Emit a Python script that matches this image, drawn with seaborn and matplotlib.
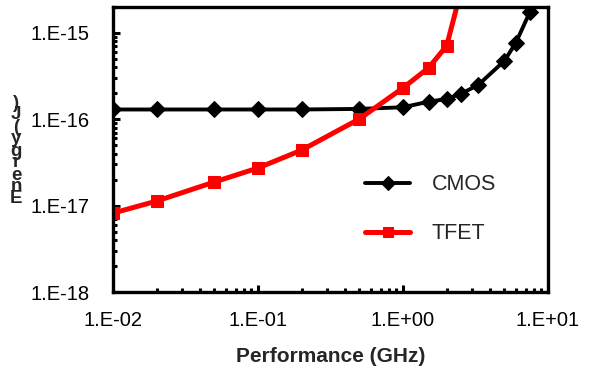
import numpy as np
import pandas as pd
import matplotlib
matplotlib.use("Agg")
import matplotlib.pyplot as plt
from matplotlib.ticker import FuncFormatter, LogLocator, NullFormatter
import seaborn as sns

# data
cmos_freq = [0.01, 0.02, 0.05, 0.1, 0.2, 0.5, 1.0, 1.5, 2.0, 2.5, 3.3, 5.0, 6.0, 7.5]
cmos_energy = [1.3e-16, 1.3e-16, 1.3e-16, 1.3e-16, 1.3e-16, 1.32e-16, 1.38e-16,
               1.6e-16, 1.72e-16, 1.97e-16, 2.5e-16, 4.75e-16, 7.7e-16, 1.75e-15]
tfet_freq = [0.01, 0.02, 0.05, 0.1, 0.2, 0.5, 1.0, 1.5, 2.0, 2.5]
tfet_energy = [8.2e-18, 1.13e-17, 1.88e-17, 2.73e-17, 4.4e-17, 1.01e-16,
               2.31e-16, 3.94e-16, 7.1e-16, 3.0e-15]

x_ticks = [0.01, 0.1, 1, 10]
y_ticks = [1e-18, 1e-17, 1e-16, 1e-15]
x_label = "Performance (GHz)"
y_label = "Energy (J)"

df = pd.concat([
    pd.DataFrame({"freq": cmos_freq, "energy": cmos_energy, "tech": "CMOS"}),
    pd.DataFrame({"freq": tfet_freq, "energy": tfet_energy, "tech": "TFET"}),
], ignore_index=True)

sns.set_theme(style="white")
plt.rcParams["font.family"] = ["Liberation Sans", "DejaVu Sans"]

fig = plt.figure(figsize=(5.93, 3.70), dpi=100)
ax = fig.add_axes([113 / 593, 1 - 292 / 370, 435 / 593, 285 / 370])

sns.lineplot(data=df[df.tech == "CMOS"], x="freq", y="energy", ax=ax,
             color="black", marker="D", markersize=8, linewidth=2.8,
             markeredgecolor="black", label="CMOS")
sns.lineplot(data=df[df.tech == "TFET"], x="freq", y="energy", ax=ax,
             color="#ff0000", marker="s", markersize=8.5, linewidth=3.6,
             markeredgecolor="#ff0000", label="TFET")

ax.set_xscale("log")
ax.set_yscale("log")
ax.set_xlim(0.01, 10)
ax.set_ylim(1e-18, 2e-15)

fmt = FuncFormatter(lambda v, p: f"1.E{int(round(np.log10(v))):+03d}")
ax.set_xticks(x_ticks)
ax.set_yticks(y_ticks)
ax.xaxis.set_major_formatter(fmt)
ax.yaxis.set_major_formatter(fmt)
ax.xaxis.set_minor_locator(LogLocator(base=10, subs=np.arange(2, 10), numticks=20))
ax.yaxis.set_minor_locator(LogLocator(base=10, subs=np.arange(2, 10), numticks=20))
ax.xaxis.set_minor_formatter(NullFormatter())
ax.yaxis.set_minor_formatter(NullFormatter())

ax.tick_params(axis="both", which="both", direction="in", colors="black",
               bottom=True, left=True, top=False, right=False)
ax.tick_params(which="major", length=5, width=2.2, labelsize=14.5)
ax.tick_params(which="minor", length=3, width=2.2)
ax.tick_params(axis="y", which="major", pad=17)
ax.tick_params(axis="x", which="major", pad=14)

for s in ax.spines.values():
    s.set_visible(True)
    s.set_color("black")
    s.set_linewidth(2.4)

ax.set_xlabel(x_label, fontsize=15, fontweight="bold", labelpad=12)
ax.set_ylabel("")

# stacked (squashed) vertical y label as it appears in the original
for i, ch in enumerate(y_label.replace(" ", "")):
    fig.text(16 / 593, 1 - (199 - i * 12) / 370, ch, fontsize=13.5,
             fontweight="bold", ha="center", va="center")

ax.legend(loc="center left", bbox_to_anchor=(0.535, 0.29), frameon=False,
          fontsize=15.5, handlelength=2.1, labelspacing=1.3, handletextpad=1.0,
          numpoints=1, markerscale=0.85)

fig.savefig("out.png", dpi=100)
